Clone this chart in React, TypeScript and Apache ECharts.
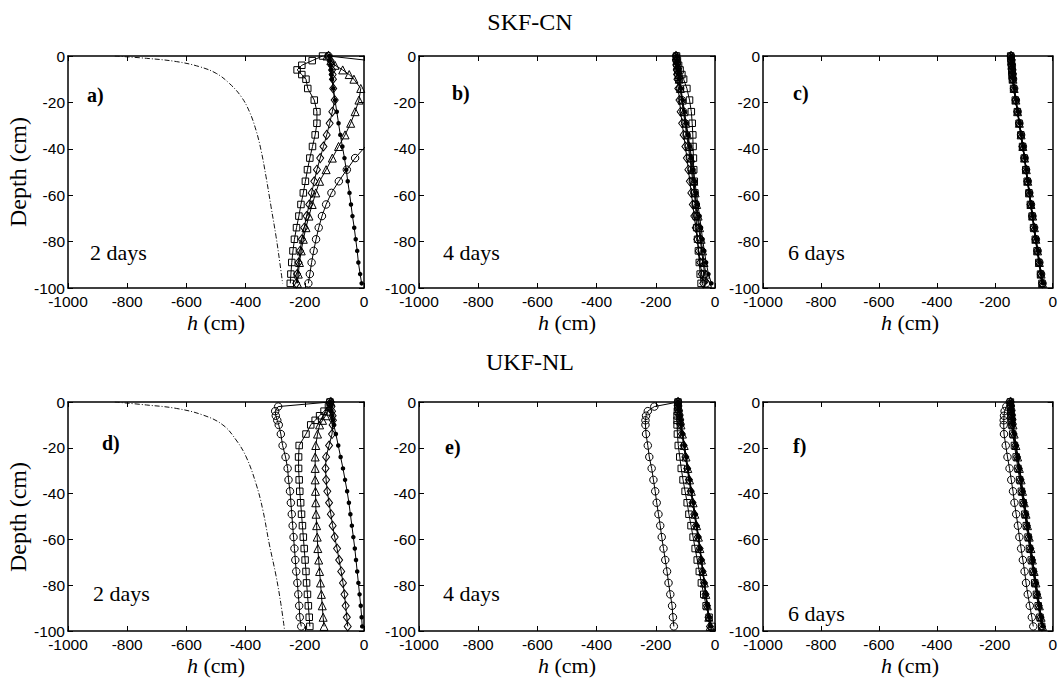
import React, { useEffect, useRef } from "react";
import * as echarts from "echarts";

// depth (cm) of the profile nodes
const depths = [0, -2, -4, -6, -8, -10, -14, -19, -24, -29, -34, -39, -44, -49, -54, -59, -64, -69, -74, -79, -84, -89, -94, -98];

// ---- SKF-CN, 2 days (a)
const aSquare = [-140, -175, -210, -226, -210, -196, -190, -168, -159, -159, -165, -174, -183, -191, -198, -205, -213, -220, -228, -235, -240, -244, -247, -249];
const aDiamond = [-120, -113, -110, -108, -106, -105, -104, -99, -107, -116, -126, -137, -148, -159, -168, -177, -185, -194, -202, -210, -216, -221, -226, -229];
const aTriangle = [-125, -112, -98, -72, -50, -34, -11, -17, -30, -45, -64, -86, -107, -128, -150, -163, -175, -186, -196, -205, -212, -218, -222, -225];
const aCircle = [-120, 20, 60, 90, 110, 120, 130, 120, 100, 75, 45, 5, -30, -58, -85, -110, -128, -142, -153, -162, -170, -177, -183, -188];
const aDot = [-118, -115, -113, -111, -110, -108, -104, -98, -92, -86, -80, -73, -66, -60, -55, -49, -44, -39, -33, -28, -23, -19, -13, -8];
const aOpenH = [-842, -735, -634, -556, -499, -455, -415, -387, -365, -348, -331, -314, -297, -284, -275];
const aOpenD = [0, -1, -2.4, -4.6, -7.5, -11.8, -17.5, -24, -31.9, -40.5, -52, -65, -77.9, -89.4, -98];

// ---- SKF-CN, 4 days (b)
const bSquare = [-130, -127, -123, -118, -112, -106, -95, -86, -80, -77, -75, -74, -73, -72, -70, -68, -66, -64, -62, -59, -56, -53, -50, -47];
const bDiamond = [-132, -131, -130, -129, -128, -127, -124, -120, -116, -111, -106, -100, -95, -90, -85, -80, -75, -70, -65, -60, -55, -50, -45, -40];
const bTriangle = [-131, -129, -127, -125, -123, -121, -117, -111, -105, -99, -93, -87, -82, -77, -72, -67, -62, -57, -52, -47, -42, -37, -31, -25];
const bCircle = [-131, -130, -128, -126, -124, -122, -118, -112, -107, -101, -96, -90, -85, -80, -75, -70, -65, -60, -55, -50, -45, -40, -35, -30];
const bDot = [-130, -128, -126, -124, -122, -120, -115, -109, -103, -97, -91, -85, -79, -73, -68, -63, -58, -52, -47, -42, -36, -30, -22, -12];

// ---- SKF-CN, 6 days (c)
const cSquare = [-145, -143, -142, -141, -140, -139, -135, -129, -122, -116, -110, -104, -98, -93, -88, -82, -77, -71, -66, -60, -54, -48, -42, -37];
const cDiamond = [-144, -143, -142, -140, -139, -138, -134, -128, -122, -116, -110, -104, -98, -92, -87, -81, -76, -70, -65, -59, -53, -47, -41, -36];
const cTriangle = [-143, -142, -141, -139, -138, -137, -133, -127, -121, -115, -109, -103, -97, -91, -86, -80, -75, -69, -63, -58, -52, -46, -40, -35];
const cCircle = [-144, -143, -141, -140, -139, -137, -133, -127, -121, -115, -109, -103, -97, -92, -86, -81, -75, -70, -64, -58, -52, -46, -40, -35];
const cDot = [-143, -142, -141, -139, -138, -136, -132, -126, -120, -114, -108, -102, -96, -91, -85, -80, -74, -69, -63, -57, -51, -45, -39, -34];

// ---- UKF-NL, 2 days (d)
const dSquare = [-115, -120, -135, -150, -165, -180, -196, -219, -221, -221, -219, -217, -214, -211, -208, -205, -202, -199, -196, -194, -191, -188, -185, -183];
const dDiamond = [-112, -110, -108, -106, -105, -106, -108, -118, -128, -130, -128, -124, -118, -112, -106, -99, -91, -84, -77, -71, -66, -62, -58, -55];
const dTriangle = [-112, -118, -124, -130, -140, -150, -157, -163, -165, -165, -165, -164, -163, -162, -160, -158, -156, -153, -150, -147, -144, -141, -138, -135];
const dCircle = [-115, -290, -300, -298, -293, -288, -281, -275, -265, -258, -255, -250, -247, -244, -241, -238, -235, -232, -229, -225, -222, -219, -217, -212];
const dDot = [-113, -112, -110, -107, -105, -102, -95, -87, -79, -71, -64, -57, -51, -46, -41, -36, -31, -27, -23, -19, -15, -11, -8, -6];
const dOpenH = [-842, -735, -634, -544, -477, -432, -398, -365, -342, -320, -297, -281, -269];
const dOpenD = [0, -1.3, -2.8, -5.7, -10, -16.6, -24, -35.6, -47, -62, -76, -88, -99];

// ---- UKF-NL, 4 days (e)
const eSquare = [-125, -126, -127, -128, -128, -128, -127, -124, -119, -114, -108, -101, -94, -88, -81, -74, -67, -60, -53, -46, -38, -30, -20, -10];
const eDiamond = [-125, -124, -122, -120, -118, -116, -112, -106, -100, -94, -88, -82, -76, -70, -64, -58, -52, -47, -42, -37, -32, -27, -22, -17];
const eTriangle = [-125, -123, -121, -119, -117, -115, -110, -104, -98, -92, -86, -80, -74, -68, -62, -56, -51, -46, -41, -36, -31, -26, -21, -16];
const eCircle = [-125, -205, -227, -233, -235, -235, -233, -227, -222, -214, -208, -202, -197, -191, -185, -180, -174, -168, -162, -157, -151, -145, -142, -139];
const eDot = [-125, -123, -120, -118, -116, -114, -109, -103, -97, -91, -85, -79, -73, -67, -61, -55, -50, -45, -40, -35, -30, -25, -20, -15];

// ---- UKF-NL, 6 days (f)
const fSquare = [-146, -146, -145, -144, -143, -142, -138, -132, -126, -120, -114, -108, -102, -96, -91, -85, -80, -74, -68, -62, -56, -50, -44, -38];
const fDiamond = [-145, -144, -143, -141, -140, -139, -135, -129, -123, -117, -111, -106, -100, -94, -89, -83, -77, -71, -66, -60, -54, -48, -42, -37];
const fTriangle = [-145, -143, -142, -140, -139, -137, -133, -127, -121, -115, -109, -104, -98, -92, -87, -81, -75, -70, -64, -58, -52, -46, -40, -35];
const fCircle = [-148, -160, -166, -168, -169, -169, -168, -162, -156, -149, -143, -137, -132, -126, -120, -115, -109, -103, -97, -92, -86, -79, -72, -67];
const fDot = [-144, -143, -141, -139, -137, -136, -132, -126, -120, -114, -108, -103, -97, -91, -86, -80, -74, -69, -63, -57, -51, -45, -39, -34];

const panelLetters = ["a)", "b)", "c)", "d)", "e)", "f)"];
const panelDays = ["2 days", "4 days", "6 days", "2 days", "4 days", "6 days"];
const rowTitles = ["SKF-CN", "UKF-NL"];
const yTitle = "Depth (cm)";

const panels = [
  { sq: aSquare, di: aDiamond, tr: aTriangle, ci: aCircle, dot: aDot, openH: aOpenH, openD: aOpenD },
  { sq: bSquare, di: bDiamond, tr: bTriangle, ci: bCircle, dot: bDot },
  { sq: cSquare, di: cDiamond, tr: cTriangle, ci: cCircle, dot: cDot },
  { sq: dSquare, di: dDiamond, tr: dTriangle, ci: dCircle, dot: dDot, openH: dOpenH, openD: dOpenD },
  { sq: eSquare, di: eDiamond, tr: eTriangle, ci: eCircle, dot: eDot },
  { sq: fSquare, di: fDiamond, tr: fTriangle, ci: fCircle, dot: fDot },
];

// layout
const gridRects = [
  { left: 68, top: 56, width: 296, height: 232 },
  { left: 419, top: 56, width: 296, height: 232 },
  { left: 763, top: 56, width: 294, height: 232 },
  { left: 68, top: 402, width: 296, height: 229 },
  { left: 419, top: 402, width: 296, height: 229 },
  { left: 763, top: 402, width: 294, height: 229 },
];
const letterPos = [
  [87, 95], [452, 93], [793, 93],
  [102, 443], [445, 447], [793, 446],
];
const daysPos = [
  [90, 252], [443, 252], [788, 252],
  [93, 593], [443, 593], [788, 613],
];

const SANS = "'Liberation Sans', Arial, sans-serif";
const SERIF = "'Liberation Serif', 'Times New Roman', serif";

function zip(h: number[], d: number[]) {
  return h.map((v, i) => [v, d[i]]);
}

export default function App() {
  const ref = useRef<HTMLDivElement>(null);
  useEffect(() => {
    document.body.style.margin = "0";
    if (!ref.current) return;
    const chart = echarts.init(ref.current, null, { renderer: "svg" });

    const xAxes: any[] = [];
    const yAxes: any[] = [];
    const series: any[] = [];
    const lineCol = "#000";

    gridRects.forEach((g, i) => {
      const axisLine = { show: true, onZero: false, lineStyle: { color: lineCol, width: 1.5 } };
      const tick = { show: true, inside: true, length: 5, lineStyle: { color: lineCol, width: 1 } };
      const fmt = (v: number) => String(v);
      xAxes.push({
        gridIndex: i, type: "value", min: -1000, max: 0, interval: 200, position: "bottom",
        axisLine, axisTick: tick, splitLine: { show: false },
        axisLabel: { color: "#000", fontFamily: SANS, fontSize: 15.5, margin: 5, formatter: fmt },
      });
      xAxes.push({
        gridIndex: i, type: "value", min: -1000, max: 0, interval: 200, position: "top",
        axisLine, axisTick: tick, splitLine: { show: false }, axisLabel: { show: false },
      });
      yAxes.push({
        gridIndex: i, type: "value", min: -100, max: 0, interval: 20, position: "left",
        axisLine, axisTick: tick, splitLine: { show: false },
        axisLabel: { color: "#000", fontFamily: SANS, fontSize: 15.5, margin: 3, formatter: fmt },
      });
      yAxes.push({
        gridIndex: i, type: "value", min: -100, max: 0, interval: 20, position: "right",
        axisLine, axisTick: tick, splitLine: { show: false }, axisLabel: { show: false },
      });

      const p: any = panels[i];
      const base = {
        type: "line", xAxisIndex: 2 * i, yAxisIndex: 2 * i, clip: true, silent: true,
        lineStyle: { color: lineCol, width: 1 },
      };
      if (p.openH) {
        series.push({
          ...base, data: zip(p.openH, p.openD), showSymbol: false, symbol: "none", smooth: 0.4,
          lineStyle: { color: "#111", width: 1, type: [5, 2, 1, 2] },
        });
      }
      const open = { color: "rgba(0,0,0,0)", borderColor: lineCol, borderWidth: 1 };
      series.push({ ...base, data: zip(p.sq, depths), symbol: "rect", symbolSize: 6.5, itemStyle: open });
      series.push({ ...base, data: zip(p.di, depths), symbol: "diamond", symbolSize: [7, 9], itemStyle: open });
      series.push({ ...base, data: zip(p.tr, depths), symbol: "triangle", symbolSize: 8, itemStyle: open });
      series.push({ ...base, data: zip(p.ci, depths), symbol: "circle", symbolSize: 7.5, itemStyle: open });
      series.push({ ...base, data: zip(p.dot, depths), symbol: "circle", symbolSize: 4.5, itemStyle: { color: lineCol, borderColor: lineCol, borderWidth: 0 } });
    });

    const graphic: any[] = [];
    rowTitles.forEach((t, r) => {
      graphic.push({
        type: "text", x: 530, y: r === 0 ? 22 : 362,
        style: { text: t, font: `24px ${SERIF}`, fill: "#000", align: "center", verticalAlign: "middle" },
      });
    });
    gridRects.forEach((g, i) => {
      graphic.push({
        type: "text", x: g.left + g.width / 2, y: g.top + g.height + 34,
        style: {
          text: "{i|h} (cm)", fill: "#000", align: "center", verticalAlign: "middle",
          font: `22px ${SERIF}`,
          rich: { i: { fontStyle: "italic", fontFamily: SERIF, fontSize: 22 } },
        },
      });
      graphic.push({
        type: "text", x: letterPos[i][0], y: letterPos[i][1],
        style: { text: panelLetters[i], font: `bold 20px ${SERIF}`, fill: "#000", align: "left", verticalAlign: "middle" },
      });
      graphic.push({
        type: "text", x: daysPos[i][0], y: daysPos[i][1],
        style: { text: panelDays[i], font: `22px ${SERIF}`, fill: "#000", align: "left", verticalAlign: "middle" },
      });
    });
    [172, 517].forEach((cy) => {
      graphic.push({
        type: "text", x: 18, y: cy, rotation: Math.PI / 2,
        style: { text: yTitle, font: `24px ${SERIF}`, fill: "#000", align: "center", verticalAlign: "middle" },
      });
    });

    chart.setOption({
      animation: false,
      backgroundColor: "#fff",
      grid: gridRects.map((g) => ({ ...g, containLabel: false })),
      xAxis: xAxes,
      yAxis: yAxes,
      series,
      graphic,
    });
    return () => chart.dispose();
  }, []);
  return <div ref={ref} style={{ width: 1060, height: 683 }} />;
}
